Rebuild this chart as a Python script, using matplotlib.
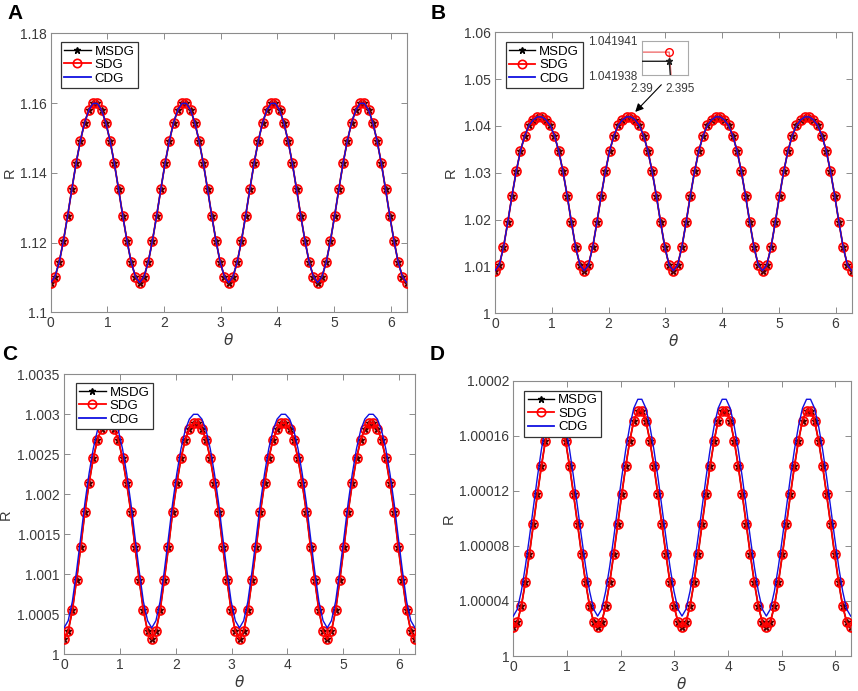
import numpy as np
import matplotlib
matplotlib.use("Agg")
import matplotlib.pyplot as plt
from matplotlib.ticker import FuncFormatter

plt.rcParams['font.family'] = ['Liberation Sans', 'DejaVu Sans']
plt.rcParams['mathtext.fontset'] = 'dejavusans'

# theta grid: 85 samples over one turn, 21 samples per period of R
n_per = 21
theta = np.linspace(0, 2 * np.pi, 4 * n_per + 1)

# one period of R values (sample 0 .. 20)
A_msdg = [1.1085, 1.1102, 1.1143, 1.1205, 1.1277, 1.1354, 1.1428, 1.1492, 1.1544, 1.1580, 1.1599,
          1.1599, 1.1580, 1.1544, 1.1492, 1.1428, 1.1354, 1.1277, 1.1205, 1.1143, 1.1102]
A_sdg = A_msdg
A_cdg = A_msdg

B_msdg = [1.0091, 1.0103, 1.0141, 1.0194, 1.0251, 1.0303, 1.0347, 1.0379, 1.0401, 1.0413, 1.0419392,
          1.0419392, 1.0413, 1.0401, 1.0379, 1.0347, 1.0303, 1.0251, 1.0194, 1.0141, 1.0103]
B_sdg = [1.0091, 1.0103, 1.0141, 1.0194, 1.0251, 1.0303, 1.0347, 1.0379, 1.0401, 1.0413, 1.0419400,
         1.0419400, 1.0413, 1.0401, 1.0379, 1.0347, 1.0303, 1.0251, 1.0194, 1.0141, 1.0103]
B_cdg = B_msdg

C_msdg = [1.00019, 1.00029, 1.00055, 1.00093, 1.00134, 1.00178, 1.00214, 1.00245, 1.00268, 1.00282, 1.00289,
          1.00289, 1.00282, 1.00268, 1.00245, 1.00214, 1.00178, 1.00134, 1.00093, 1.00055, 1.00029]
C_sdg = C_msdg
C_cdg = [1.00033, 1.00042, 1.00066, 1.00104, 1.00146, 1.00189, 1.00226, 1.00257, 1.00280, 1.00294, 1.00300,
         1.00300, 1.00294, 1.00280, 1.00257, 1.00226, 1.00189, 1.00146, 1.00104, 1.00066, 1.00042]

D_msdg = [1.0000208, 1.0000247, 1.0000363, 1.0000535, 1.0000739, 1.0000957, 1.0001174, 1.000138, 1.0001564,
          1.000171, 1.0001782, 1.0001782, 1.000171, 1.0001564, 1.000138, 1.0001174, 1.0000957, 1.0000739,
          1.0000535, 1.0000363, 1.0000247]
D_sdg = D_msdg
D_cdg = [1.000029, 1.000034, 1.000047, 1.000065, 1.000086, 1.000108, 1.000130, 1.000150, 1.000167, 1.000180,
         1.0001865, 1.0001865, 1.000180, 1.000167, 1.000150, 1.000130, 1.000108, 1.000086, 1.000065,
         1.000047, 1.000034]

A_yticks = [1.1, 1.12, 1.14, 1.16, 1.18]
B_yticks = [1, 1.01, 1.02, 1.03, 1.04, 1.05, 1.06]
C_yticks = [1, 1.0005, 1.001, 1.0015, 1.002, 1.0025, 1.003, 1.0035]
D_yticks = [1, 1.00004, 1.00008, 1.00012, 1.00016, 1.0002]
x_ticks = [0, 1, 2, 3, 4, 5, 6]

inset_xticks = [2.39, 2.395]
inset_yticks = [1.041938, 1.041941]


def full(period):
    p = np.asarray(period)
    return np.append(np.tile(p, 4), p[0])


W, H = 858, 691
fig = plt.figure(figsize=(W / 100, H / 100), dpi=100)


def box(l, t, r, b):
    return [l / W, 1 - b / H, (r - l) / W, (b - t) / H]


spine_c = '#8c8c8c'
tick_c = '#3a3a3a'


def panel(rect, msdg, sdg, cdg, yticks, letter, lpos, leg_rect, ylab_x):
    ax = fig.add_axes(box(*rect))
    ax.plot(theta, full(msdg), color='black', lw=1.0, marker='*', ms=5, zorder=2)
    ax.plot(theta, full(sdg), color='red', lw=1.3, marker='o', ms=6.5,
            mfc=(1, 0, 0, 0.3), mec='red', mew=1.2, zorder=3)
    ax.plot(theta, full(cdg), color='#1010e0', lw=1.0, zorder=4)
    ax.set_xlim(0, 2 * np.pi)
    ax.set_ylim(yticks[0], yticks[-1])
    ax.set_xticks(x_ticks)
    ax.set_yticks(yticks)
    ax.yaxis.set_major_formatter(FuncFormatter(lambda v, p: '%g' % v))
    ax.tick_params(direction='in', length=4, width=0.7, color=spine_c, labelcolor=tick_c,
                   labelsize=10, top=True, right=True, pad=3)
    for s in ax.spines.values():
        s.set_color(spine_c)
        s.set_linewidth(0.8)
    ax.set_ylabel('R', fontsize=10.5, color=tick_c)
    ax.yaxis.set_label_coords((ylab_x - rect[0]) / (rect[2] - rect[0]), 0.5)
    ax.set_xlabel(r'$\theta$', fontsize=11, color=tick_c, labelpad=1)
    h1, = ax.plot([], [], color='black', lw=1.0, marker='*', ms=5)
    h2, = ax.plot([], [], color='red', lw=1.3, marker='o', ms=6, mfc='none', mew=1.2)
    h3, = ax.plot([], [], color='#1010e0', lw=1.3)
    l, t, r, b = leg_rect
    leg = ax.legend([h1, h2, h3], ['MSDG', 'SDG', 'CDG'], loc='upper left',
                    bbox_to_anchor=((l - rect[0]) / (rect[2] - rect[0]),
                                    1 - (t - rect[1]) / (rect[3] - rect[1])),
                    borderaxespad=0, fontsize=9.5, fancybox=False, framealpha=1,
                    edgecolor='#333333', handlelength=2.0, handletextpad=0.3,
                    labelspacing=0.1, borderpad=0.25)
    leg.get_frame().set_linewidth(0.9)
    fig.text(lpos[0] / W, 1 - lpos[1] / H, letter, fontsize=15, fontweight='bold', va='top')
    return ax


axA = panel((50.7, 33.3, 406.7, 312.3), A_msdg, A_sdg, A_cdg, A_yticks, 'A', (7, 4),
            (61, 42, 131, 89), 17)
axB = panel((495, 32.3, 851.7, 313.3), B_msdg, B_sdg, B_cdg, B_yticks, 'B', (431, 4),
            (505.7, 42.3, 575.7, 90), 458)
axC = panel((64, 374.3, 415, 654.3), C_msdg, C_sdg, C_cdg, C_yticks, 'C', (2, 345),
            (76, 383, 144, 430.7), 13)
axD = panel((513.3, 380.7, 850.7, 656), D_msdg, D_sdg, D_cdg, D_yticks, 'D', (430, 345),
            (524.3, 390.7, 592.7, 437.3), 456)

# zoomed view of panel B near the second peak
axI = fig.add_axes(box(641.7, 40.7, 688.3, 75))
axI.plot(theta, full(B_sdg), color='#f07070', lw=1.0, marker='o', ms=5.5, mfc='none',
         mec='red', mew=1.0, zorder=2)
axI.plot(theta, full(B_msdg), color='#202020', lw=1.0, marker='*', ms=5, zorder=3)
axI.set_xlim(2.39, 2.39608)
axI.set_ylim(inset_yticks[0], inset_yticks[1])
axI.set_xticks(inset_xticks)
axI.set_yticks(inset_yticks)
axI.xaxis.set_major_formatter(FuncFormatter(lambda v, p: '%g' % v))
axI.yaxis.set_major_formatter(FuncFormatter(lambda v, p: '%.6f' % v))
axI.tick_params(length=0, labelsize=8.5, labelcolor=tick_c)
axI.tick_params(axis='x', pad=6)
axI.tick_params(axis='y', pad=3)
for s in axI.spines.values():
    s.set_color('#aaaaaa')
    s.set_linewidth(0.8)

axB.annotate('', xy=(2.47, 1.0430), xytext=(2.93, 1.0488),
             arrowprops=dict(arrowstyle='-|>', color='black', lw=0.8,
                             mutation_scale=12, shrinkA=0, shrinkB=0))

fig.savefig('out.png', dpi=100)
